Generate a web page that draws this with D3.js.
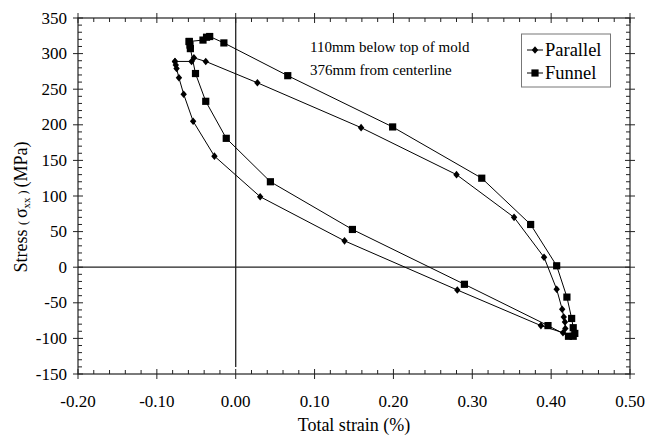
<!DOCTYPE html>
<html>
<head>
<meta charset="utf-8">
<script src="https://cdn.jsdelivr.net/npm/d3@7"></script>
<style>
  body { margin: 0; background: #fff; }
  svg { display: block; }
</style>
</head>
<body>
<div id="svg-container"></div>
<script>
////////////////////////////////////////////////////////////////////
////////////////////////////  Data  ////////////////////////////////
// strain (%) and stress (MPa)
const parallelStrain = [-0.077, -0.076, -0.075, -0.072, -0.066, -0.054, -0.027, 0.031, 0.138, 0.281, 0.387, 0.415, 0.418, 0.4175, 0.416, 0.414, 0.407, 0.391, 0.353, 0.280, 0.159, 0.0275, -0.038, -0.053, -0.056, -0.077];
const parallelStress = [289, 284, 279, 266, 243, 205, 156, 99, 37, -32, -82, -92, -86, -77, -70, -59, -31, 14, 70, 130, 196, 259, 289, 294, 289, 289];

const funnelStrain = [-0.059, -0.058, -0.0575, -0.051, -0.038, -0.012, 0.044, 0.148, 0.290, 0.396, 0.422, 0.428, 0.430, 0.428, 0.426, 0.420, 0.407, 0.374, 0.312, 0.199, 0.066, -0.015, -0.033, -0.037, -0.0415, -0.059];
const funnelStress = [317, 312, 307, 272, 233, 181, 120, 53, -24, -82, -97, -97, -93, -85, -72, -42, 2, 60, 125, 197, 269, 315, 324, 323, 319, 317];

const xTicks = [-0.2, -0.1, 0, 0.1, 0.2, 0.3, 0.4, 0.5];
const yTicks = [-150, -100, -50, 0, 50, 100, 150, 200, 250, 300, 350];
const seriesNames = ["Parallel", "Funnel"];
const noteLines = ["110mm below top of mold", "376mm from centerline"];

////////////////////////////////////////////////////////////////////
////////////////////////////  Init  ////////////////////////////////
const width = 648;
const height = 439;
const margin = { top: 18, right: 18, bottom: 65, left: 78 };

const svg = d3
  .select("#svg-container")
  .append("svg")
  .attr("width", width)
  .attr("height", height)
  .attr("font-family", "'Liberation Serif', 'DejaVu Serif', serif");

const x = d3.scaleLinear().domain([-0.2, 0.5]).range([margin.left, width - margin.right]);
const y = d3.scaleLinear().domain([-150, 350]).range([height - margin.bottom, margin.top]);

const axisColor = "#222";
const ink = "#000";

// frame
svg
  .append("rect")
  .attr("x", x(-0.2))
  .attr("y", y(350))
  .attr("width", x(0.5) - x(-0.2))
  .attr("height", y(-150) - y(350))
  .attr("fill", "none")
  .attr("stroke", axisColor)
  .attr("stroke-width", 1.2);

// ticks
const xMinor = d3.range(-0.2, 0.5001, 0.02).filter((d) => Math.abs(Math.round(d * 10) - d * 10) > 1e-6);
const yMinor = d3.range(-150, 351, 10).filter((d) => d % 50 !== 0);
const ticks = svg.append("g").attr("stroke", axisColor).attr("stroke-width", 1);

[y(-150), y(350)].forEach((yy, k) => {
  const dir = k === 0 ? -1 : 1;
  ticks.selectAll(null).data(xMinor).enter().append("line")
    .attr("x1", (d) => x(d)).attr("x2", (d) => x(d))
    .attr("y1", yy).attr("y2", yy + dir * 4);
  ticks.selectAll(null).data(xTicks).enter().append("line")
    .attr("x1", (d) => x(d)).attr("x2", (d) => x(d))
    .attr("y1", yy - 5).attr("y2", yy + 5);
});

[x(-0.2), x(0.5)].forEach((xx, k) => {
  const dir = k === 0 ? 1 : -1;
  ticks.selectAll(null).data(yMinor).enter().append("line")
    .attr("y1", (d) => y(d)).attr("y2", (d) => y(d))
    .attr("x1", xx).attr("x2", xx + dir * 4);
  ticks.selectAll(null).data(yTicks).enter().append("line")
    .attr("y1", (d) => y(d)).attr("y2", (d) => y(d))
    .attr("x1", xx - 5).attr("x2", xx + 5);
});

// tick labels (plain hyphen minus, as in the figure)
svg.append("g").selectAll("text").data(xTicks).enter().append("text")
  .attr("x", (d) => x(d))
  .attr("y", y(-150) + 33)
  .attr("text-anchor", "middle")
  .attr("font-size", 17)
  .text((d) => d3.format(".2f")(d).replace("\u2212", "-"));

svg.append("g").selectAll("text").data(yTicks).enter().append("text")
  .attr("x", x(-0.2) - 11)
  .attr("y", (d) => y(d) + 5.5)
  .attr("text-anchor", "end")
  .attr("font-size", 17)
  .text((d) => String(d));

// axis titles
svg.append("text")
  .attr("x", (x(-0.2) + x(0.5)) / 2)
  .attr("y", 431)
  .attr("text-anchor", "middle")
  .attr("font-size", 18)
  .text("Total strain (%)");

const yTitle = svg.append("text")
  .attr("transform", `translate(27, 207) rotate(-90)`)
  .attr("text-anchor", "middle")
  .attr("font-size", 18);
yTitle.append("tspan").text("Stress ");
yTitle.append("tspan").attr("font-size", 12).text("( ");
yTitle.append("tspan").text("σ");
yTitle.append("tspan").attr("font-size", 11).attr("dy", 3).text("xx");
yTitle.append("tspan").attr("font-size", 12).attr("dy", -3).text("  ) ");
yTitle.append("tspan").text("(MPa)");

// zero lines
svg.append("line")
  .attr("x1", x(-0.2)).attr("x2", x(0.5))
  .attr("y1", y(0)).attr("y2", y(0))
  .attr("stroke", axisColor).attr("stroke-width", 1.3);
svg.append("line")
  .attr("x1", x(0)).attr("x2", x(0))
  .attr("y1", y(350)).attr("y2", y(-140))
  .attr("stroke", axisColor).attr("stroke-width", 1.3);

////////////////////////////////////////////////////////////////////
////////////////////////////  Series  //////////////////////////////
const line = d3.line().x((d) => x(d[0])).y((d) => y(d[1]));

const diamond = (cx, cy) => `M${cx},${cy - 3.8}L${cx + 3.2},${cy}L${cx},${cy + 3.8}L${cx - 3.2},${cy}Z`;
const square = (cx, cy) => `M${cx - 3.6},${cy - 3.6}h7.2v7.2h-7.2Z`;

const series = [
  { name: seriesNames[0], pts: d3.zip(parallelStrain, parallelStress), marker: diamond },
  { name: seriesNames[1], pts: d3.zip(funnelStrain, funnelStress), marker: square },
];

series.forEach((s) => {
  svg.append("path")
    .datum(s.pts)
    .attr("d", line)
    .attr("fill", "none")
    .attr("stroke", ink)
    .attr("stroke-width", 1);

  svg.append("g").selectAll("path").data(s.pts).enter().append("path")
    .attr("d", (d) => s.marker(x(d[0]), y(d[1])))
    .attr("fill", ink);
});

////////////////////////////////////////////////////////////////////
////////////////////////////  Legend  //////////////////////////////
svg.append("rect")
  .attr("x", 521.5).attr("y", 34)
  .attr("width", 89).attr("height", 53)
  .attr("fill", "#fff")
  .attr("stroke", "#777")
  .attr("stroke-width", 1);

series.forEach((s, i) => {
  const ly = 50 + i * 23;
  svg.append("line")
    .attr("x1", 527).attr("x2", 543)
    .attr("y1", ly).attr("y2", ly)
    .attr("stroke", ink).attr("stroke-width", 1);
  svg.append("path").attr("d", s.marker(535, ly)).attr("fill", ink);
  svg.append("text")
    .attr("x", 545).attr("y", ly + 6)
    .attr("font-size", 18.5)
    .text(s.name);
});

// note
svg.append("g").selectAll("text").data(noteLines).enter().append("text")
  .attr("x", 310)
  .attr("y", (d, i) => 52 + i * 23)
  .attr("font-size", 15)
  .text((d) => d);
</script>
</body>
</html>
